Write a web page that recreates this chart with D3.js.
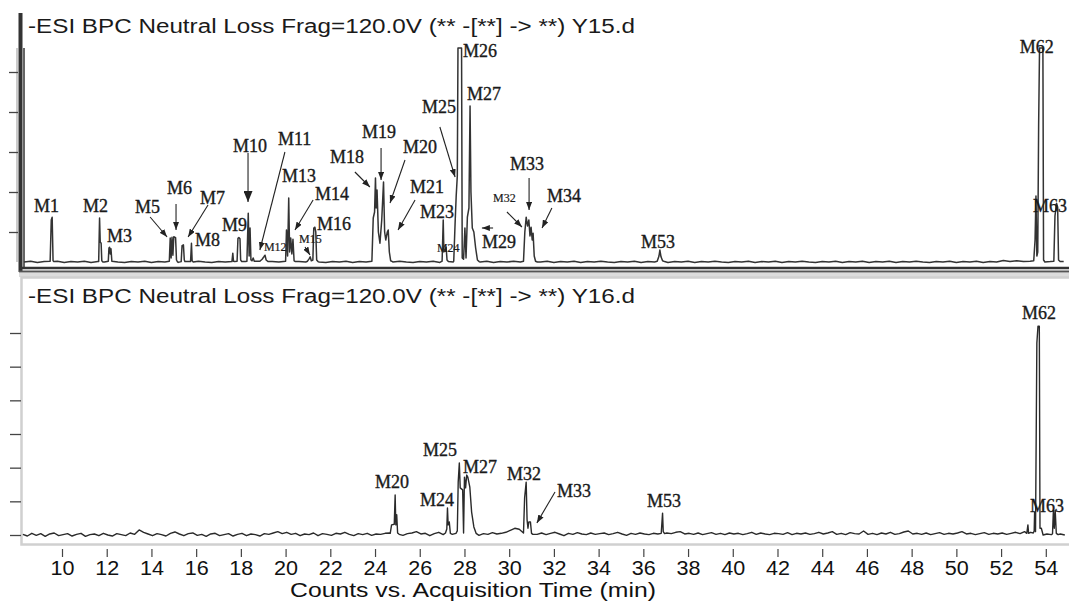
<!DOCTYPE html>
<html><head><meta charset="utf-8">
<script src="https://cdn.jsdelivr.net/npm/d3@7"></script>
<style>
html,body{margin:0;padding:0;background:#fff;}
svg{display:block;}
</style></head>
<body>
<svg id="chart" width="1069" height="604"></svg>
<script>
// ---------------- DATA ----------------
const xTickValues = [10,12,14,16,18,20,22,24,26,28,30,32,34,36,38,40,42,44,46,48,50,52,54];
const topYTicks = [1,2,3,4,5];
const botYTicks = [0,1,2,3,4,5,6];
const titleY15 = "-ESI BPC Neutral Loss Frag=120.0V (** -[**] -> **) Y15.d";
const titleY16 = "-ESI BPC Neutral Loss Frag=120.0V (** -[**] -> **) Y16.d";
const xAxisTitle = "Counts vs. Acquisition Time (min)";

// Y15 baseline noise [time, intensity]
const y15Baseline = [
[8.3,.25],[8.6,.27],[8.9,.24],[9.2,.26],[9.5,.25],[9.8,.27],[10.1,.24],[10.4,.26],[10.7,.25],[11.0,.27],
[11.3,.24],[11.6,.26],[11.9,.25],[12.2,.27],[12.5,.25],[12.8,.24],[13.1,.26],[13.4,.25],[13.7,.27],[14.0,.24],
[14.3,.26],[14.6,.25],[14.9,.27],[15.2,.24],[15.5,.26],[15.8,.25],[16.1,.27],[16.4,.25],[16.7,.24],[17.0,.26],
[17.3,.25],[17.6,.27],[17.9,.24],[18.2,.26],[18.5,.25],[18.8,.27],[19.1,.24],[19.4,.26],[19.7,.25],[20.0,.27],
[20.3,.24],[20.6,.26],[20.9,.25],[21.2,.27],[21.5,.25],[21.8,.24],[22.1,.26],[22.4,.25],[22.7,.27],[23.0,.24],
[23.3,.26],[23.6,.25],[23.9,.27],[24.2,.24],[24.5,.26],[24.8,.25],[25.1,.27],[25.4,.25],[25.7,.24],[26.0,.26],
[26.3,.25],[26.6,.27],[26.9,.24],[27.2,.26],[27.5,.25],[27.8,.27],[28.1,.24],[28.4,.26],[28.7,.25],[29.0,.27],
[29.3,.24],[29.6,.26],[29.9,.25],[30.2,.27],[30.5,.25],[30.8,.24],[31.1,.26],[31.4,.25],[31.7,.27],[32.0,.24],
[32.3,.26],[32.6,.25],[32.9,.27],[33.2,.24],[33.5,.26],[33.8,.25],[34.1,.27],[34.4,.25],[34.7,.24],[35.0,.26],
[35.3,.25],[35.6,.27],[35.9,.24],[36.2,.26],[36.5,.25],[36.8,.27],[37.1,.24],[37.4,.26],[37.7,.25],[38.0,.27],
[38.3,.24],[38.6,.26],[38.9,.25],[39.2,.27],[39.5,.25],[39.8,.24],[40.1,.26],[40.4,.25],[40.7,.27],[41.0,.24],
[41.3,.26],[41.6,.25],[41.9,.27],[42.2,.24],[42.5,.26],[42.8,.25],[43.1,.27],[43.4,.25],[43.7,.24],[44.0,.26],
[44.3,.25],[44.6,.27],[44.9,.24],[45.2,.26],[45.5,.25],[45.8,.27],[46.1,.24],[46.4,.26],[46.7,.25],[47.0,.27],
[47.3,.24],[47.6,.26],[47.9,.25],[48.2,.27],[48.5,.25],[48.8,.24],[49.1,.26],[49.4,.25],[49.7,.27],[50.0,.24],
[50.3,.26],[50.6,.25],[50.9,.27],[51.2,.24],[51.5,.26],[51.8,.25],[52.1,.29],[52.4,.26],[52.7,.28],[53.0,.26],
[53.3,.27],[53.6,.26],[53.9,.25],[54.2,.26],[54.5,.25],[54.8,.26]
];

// Y15 peak clusters [time, intensity]
const y15Peaks = [
 [[9.47,.27],[9.52,1.3],[9.56,1.37],[9.6,.28],[9.64,.26]],
 [[11.64,.26],[11.68,1.35],[11.71,.75],[11.75,.72],[11.78,.28],[11.83,.25]],
 [[12.07,.27],[12.1,.6],[12.13,.62],[12.16,.45],[12.19,.58],[12.23,.27]],
 [[14.8,.27],[14.84,.85],[14.88,.35],[14.92,.87],[14.96,.42],[15.0,.88],[15.08,.86],[15.12,.3],[15.16,.26]],
 [[15.33,.26],[15.37,.66],[15.43,.68],[15.47,.3],[15.5,.26]],
 [[15.75,.26],[15.79,.72],[15.82,.28],[15.87,.25]],
 [[17.6,.26],[17.64,.47],[17.67,.27],[17.72,.26]],
 [[17.83,.27],[17.87,.84],[17.91,.86],[17.96,.83],[17.99,.3],[18.04,.26]],
 [[18.27,.27],[18.33,1.47],[18.37,.4],[18.41,1.1],[18.45,.3],[18.5,.28],[18.55,.35],[18.6,.27]],
 [[18.85,.27],[18.95,.32],[19.03,.38],[19.08,.42],[19.13,.3],[19.22,.26]],
 [[20.0,.27],[20.04,1.05],[20.09,.4],[20.14,1.85],[20.18,.5],[20.23,.85],[20.28,.45],[20.33,.82],[20.38,.28],[20.44,.26]],
 [[20.98,.27],[21.05,.33],[21.1,.38],[21.15,.28],[21.22,.3],[21.26,1.1],[21.31,1.12],[21.35,1.0],[21.39,.3],[21.45,.26]],
 [[23.86,.27],[23.92,1.35],[23.98,1.5],[24.02,2.35],[24.05,1.6],[24.09,2.05],[24.15,1.0],[24.22,.72],[24.3,1.3],[24.38,2.25],[24.43,1.0],[24.48,.8],[24.55,1.0],[24.59,1.05],[24.64,.5],[24.7,.28],[24.78,.26]],
 [[27.0,.27],[27.05,1.3],[27.08,.5],[27.13,.55],[27.18,.62],[27.22,.3],[27.28,.26]],
 [[27.52,.27],[27.58,1.2],[27.63,1.9],[27.68,2.4],[27.71,5.6],[27.87,5.6],[27.9,.35],[27.96,.32],[28.02,1.1],[28.07,.35],[28.13,1.37],[28.2,1.6],[28.25,4.15],[28.29,2.0],[28.35,1.1],[28.42,1.0],[28.5,.6],[28.58,.3],[28.66,.26]],
 [[30.64,.27],[30.7,1.0],[30.76,1.37],[30.82,1.15],[30.88,1.3],[30.93,.9],[30.98,1.12],[31.03,.8],[31.07,.97],[31.12,.4],[31.18,.27],[31.26,.25]],
 [[36.62,.27],[36.7,.4],[36.74,.55],[36.79,.38],[36.86,.28],[36.95,.26]],
 [[53.46,.28],[53.52,.8],[53.56,1.9],[53.6,.4],[53.64,.5],[53.68,3.7],[53.72,5.6],[53.87,5.6],[53.9,.3],[53.96,.25]],
 [[54.36,.27],[54.41,1.4],[54.48,1.72],[54.53,1.62],[54.57,.3],[54.64,.26]]
];

// Y16 baseline noise [time, intensity]
const y16Baseline = [
[8.25,.02],[8.45,-.03],[8.65,.05],[8.85,-.01],[9.05,.04],[9.25,-.04],[9.45,.03],[9.65,.06],[9.85,-.02],[10.05,.01],
[10.25,.04],[10.45,-.03],[10.65,.02],[10.85,.05],[11.05,-.04],[11.25,.01],[11.45,.03],[11.65,-.02],[11.85,.05],[12.05,0],
[12.25,-.03],[12.45,.04],[12.65,.01],[12.85,-.02],[13.05,.06],[13.25,.02],[13.45,.15],[13.65,.08],[13.85,.03],[14.05,-.02],
[14.25,.04],[14.45,.01],[14.65,-.03],[14.85,.05],[15.05,.09],[15.25,.03],[15.45,-.02],[15.65,.04],[15.85,.06],[16.05,-.01],
[16.25,.02],[16.45,-.04],[16.65,.03],[16.85,.05],[17.05,-.02],[17.25,.01],[17.45,.04],[17.65,-.03],[17.85,.02],[18.05,.05],
[18.25,-.02],[18.45,.03],[18.65,.01],[18.85,-.03],[19.05,.04],[19.25,.02],[19.45,.06],[19.65,.1],[19.85,.04],[20.05,.08],
[20.25,.02],[20.45,.05],[20.65,-.02],[20.85,.03],[21.05,.01],[21.25,.06],[21.45,-.02],[21.65,.04],[21.85,.02],[22.05,-.01],
[22.25,.05],[22.45,.03],[22.65,.08],[22.85,.02],[23.05,-.02],[23.25,.04],[23.45,.01],[23.65,.05],[23.85,-.01],[24.05,.03],
[24.25,.02],[24.45,.05],[24.65,.06],[24.85,.04],[25.05,.02],[25.25,-.01],[25.45,.04],[25.65,.06],[25.85,.1],[26.05,.03],
[26.25,.05],[26.45,-.02],[26.65,.04],[26.85,.08],[27.05,.01],[27.25,.06],[27.45,.02],[27.65,.08],[27.85,.03],[28.05,.01],
[28.25,.02],[28.45,.06],[28.65,-.01],[28.85,.04],[29.05,.02],[29.25,.07],[29.45,.03],[29.65,.05],[29.85,.08],[30.05,.14],
[30.25,.2],[30.45,.17],[30.65,.15],[30.85,.1],[31.05,.05],[31.25,.02],[31.45,.06],[31.65,.01],[31.85,.05],[32.05,.08],
[32.25,.03],[32.45,-.02],[32.65,.05],[32.85,.02],[33.05,.07],[33.25,.03],[33.45,.01],[33.65,.06],[33.85,.02],[34.05,.04],
[34.25,.06],[34.45,.01],[34.65,.04],[34.85,.08],[35.05,.03],[35.25,-.01],[35.45,.05],[35.65,.02],[35.85,.06],[36.05,.03],
[36.25,.01],[36.45,.05],[36.65,.03],[36.85,.02],[37.05,.06],[37.25,.04],[37.45,.08],[37.65,.1],[37.85,.03],[38.05,.05],
[38.25,.02],[38.45,.06],[38.65,.01],[38.85,.04],[39.05,.07],[39.25,.02],[39.45,.05],[39.65,.01],[39.85,.06],[40.05,.03],
[40.25,.05],[40.45,.01],[40.65,.04],[40.85,.08],[41.05,.02],[41.25,.06],[41.45,.03],[41.65,.01],[41.85,.05],[42.05,.04],
[42.25,.02],[42.45,.07],[42.65,.01],[42.85,.05],[43.05,.03],[43.25,.06],[43.45,.02],[43.65,.04],[43.85,.08],[44.05,.03],
[44.25,.06],[44.45,.1],[44.65,.02],[44.85,.05],[45.05,.01],[45.25,.07],[45.45,.04],[45.65,.03],[45.85,.12],[46.05,.02],
[46.25,.05],[46.45,.01],[46.65,.06],[46.85,.03],[47.05,.08],[47.25,.02],[47.45,.04],[47.65,.09],[47.85,.12],[48.05,.03],
[48.25,.05],[48.45,.02],[48.65,.06],[48.85,.01],[49.05,.04],[49.25,.07],[49.45,.02],[49.65,.05],[49.85,.03],[50.05,.06],
[50.25,.1],[50.45,.03],[50.65,.05],[50.85,.01],[51.05,.04],[51.25,.07],[51.45,.02],[51.65,.05],[51.85,.03],[52.05,.06],
[52.25,.02],[52.45,.05],[52.65,.08],[52.85,.04],[53.05,.1],[53.25,.06],[53.45,.12],[53.65,.05],[53.85,.08],[54.05,.03],
[54.25,.01],[54.45,-.02],[54.65,.03],[54.85,0]
];

// Y16 peak clusters [time, intensity]
const y16Peaks = [
 [[24.68,.05],[24.74,.3],[24.86,.32],[24.9,1.19],[24.93,.3],[24.97,.6],[25.01,.06],[25.08,.02]],
 [[27.15,.06],[27.21,.18],[27.24,.8],[27.27,.3],[27.32,.39],[27.37,.05],[27.42,.03]],
 [[27.62,.05],[27.68,.12],[27.72,1.57],[27.77,2.14],[27.81,1.4],[27.92,1.34],[27.96,.06],[28.0,1.72],[28.05,1.4],[28.1,1.78],[28.15,1.72],[28.24,1.42],[28.32,.68],[28.42,.24],[28.52,.05]],
 [[30.64,.06],[30.69,1.1],[30.76,1.57],[30.8,.45],[30.84,.2],[30.88,.39],[30.95,.39],[31.0,.05],[31.06,.02]],
 [[36.8,.05],[36.86,.65],[36.89,.1],[36.95,.04]],
 [[53.15,.05],[53.2,.3],[53.23,.05],[53.32,.08],[53.44,.06],[53.48,.12],[53.5,.68],[53.54,.1],[53.6,5.7],[53.65,6.2],[53.71,6.2],[53.74,.2],[53.8,.2],[53.88,0]],
 [[54.3,.04],[54.34,.74],[54.38,.2],[54.42,.74],[54.47,.05],[54.55,.01]]
];

// Peak labels: [text, time, intensity(baseline of text), small]
const y15Labels = [
 ["M1",8.75,1.5,0],["M2",10.94,1.5,0],["M3",12.01,.75,0],["M5",13.26,1.475,0],["M6",14.7,1.95,0],
 ["M7",16.17,1.7,0],["M8",15.95,.65,0],["M9",17.16,1.025,0],["M10",17.65,3.0,0],["M11",19.66,3.175,0],
 ["M12",19.03,.525,1],["M13",19.84,2.25,0],["M14",21.31,1.8,0],["M15",20.6,.725,1],["M16",21.4,1.05,0],
 ["M18",21.99,2.725,0],["M19",23.42,3.35,0],["M20",25.25,2.975,0],["M21",25.56,1.975,0],["M23",26.01,1.35,0],
 ["M24",26.77,.5,1],["M25",26.1,3.975,0],["M26",27.93,5.375,0],["M27",28.11,4.3,0],["M29",28.78,.6,0],
 ["M32",29.28,1.75,1],["M33",30.04,2.55,0],["M34",31.69,1.75,0],["M53",35.89,.6,0],["M62",52.84,5.475,0],
 ["M63",53.43,1.5,0]
];
// Arrows: [t1, v1, t2, v2, big]
const y15Arrows = [
 [13.94,1.375,14.7,.875,0],[15.1,1.7,15.1,1.05,0],[16.53,1.675,15.64,.875,0],[18.32,2.975,18.32,1.75,1],
 [19.97,3.0,18.85,.55,0],[21.23,1.8,20.42,1.05,0],[20.87,.625,21.09,.425,0],[23.1,2.5,23.77,2.125,0],
 [24.27,3.1,24.27,2.3,0],[25.34,2.8,24.67,1.725,0],[25.79,1.8,25.03,1.05,0],[26.9,3.625,27.58,2.375,0],
 [29.28,1.1,28.78,1.1,0],[29.9,1.5,30.57,1.125,0],[30.89,2.35,30.89,1.55,0],[31.91,1.6,31.47,1.1,0]
];
const y16Labels = [
 ["M20",24.0,1.39,0],["M24",26.01,.86,0],["M25",26.14,2.34,0],["M27",27.93,1.84,0],["M32",29.9,1.63,0],
 ["M33",32.14,1.13,0],["M53",36.16,.83,0],["M62",52.93,6.41,0],["M63",53.29,.68,0]
];
const y16Arrows = [[32.05,1.28,31.24,.36,0]];

// ---------------- DRAW ----------------
const svg = d3.select("#chart");
const x = d3.scaleLinear().domain([10, 54]).range([62, 1045.8]);
const yTop = d3.scaleLinear().domain([0, 5]).range([272, 72]);
const yBot = d3.scaleLinear().domain([0, 6]).range([535, 333]);

function mergeTrace(base, peaks) {
  const kept = base.filter(p => !peaks.some(c => p[0] >= c[0][0] && p[0] <= c[c.length-1][0]));
  return kept.concat(peaks.flat()).sort((a,b) => a[0]-b[0]);
}
const y15Trace = mergeTrace(y15Baseline, y15Peaks);
const y16Trace = mergeTrace(y16Baseline, y16Peaks);

// arrow markers
const defs = svg.append("defs");
function marker(id, w, h) {
  defs.append("marker").attr("id", id).attr("markerUnits","userSpaceOnUse")
    .attr("markerWidth", w).attr("markerHeight", h).attr("refX", w).attr("refY", h/2)
    .attr("orient","auto")
    .append("path").attr("d", `M0,0 L${w},${h/2} L0,${h} Z`).attr("fill","#222");
}
marker("ah", 8, 6);
marker("ahBig", 11, 9);

// bottom panel frame
svg.append("rect").attr("x",19).attr("y",273).attr("width",1060).attr("height",4).attr("fill","#dcdcdc");
svg.append("rect").attr("x",21.5).attr("y",277.5).attr("width",1060).attr("height",267)
  .attr("fill","none").attr("stroke","#d0d0d0").attr("stroke-width",2.5);

// top panel axes lines
svg.append("line").attr("x1",20.5).attr("x2",20.5).attr("y1",13).attr("y2",272).attr("stroke","#333").attr("stroke-width",4);
svg.append("line").attr("x1",24).attr("x2",24).attr("y1",48).attr("y2",268).attr("stroke","#666").attr("stroke-width",2);
svg.append("line").attr("x1",17).attr("x2",17).attr("y1",48).attr("y2",262).attr("stroke","#aaa").attr("stroke-width",1.2);
svg.append("line").attr("x1",19).attr("x2",1069).attr("y1",268).attr("y2",268).attr("stroke","#333").attr("stroke-width",2.5);
svg.append("line").attr("x1",19).attr("x2",1069).attr("y1",271.5).attr("y2",271.5).attr("stroke","#555").attr("stroke-width",2);

// y axes (unlabelled ticks)
const gTopY = svg.append("g").attr("transform","translate(18,0)")
  .call(d3.axisLeft(yTop).tickValues(topYTicks).tickFormat("").tickSize(9).tickSizeOuter(0));
gTopY.select(".domain").remove();
gTopY.selectAll(".tick line").attr("stroke","#444").attr("stroke-width",1.3);

const gBotY = svg.append("g").attr("transform","translate(21,0)")
  .call(d3.axisLeft(yBot).tickValues(botYTicks).tickFormat("").tickSize(11).tickSizeOuter(0));
gBotY.select(".domain").remove();
gBotY.selectAll(".tick line").attr("stroke","#444").attr("stroke-width",1.3);

// x axis
const gX = svg.append("g").attr("transform","translate(0,549)")
  .call(d3.axisBottom(x).tickValues(xTickValues).tickSize(8).tickPadding(4).tickSizeOuter(0));
gX.select(".domain").remove();
gX.selectAll(".tick line").attr("stroke","#444").attr("stroke-width",1.2);
gX.selectAll(".tick text").attr("font-family","'Liberation Sans', Arial, sans-serif")
  .attr("font-size",19.5).attr("fill","#111")
  .attr("textLength",24).attr("lengthAdjust","spacingAndGlyphs");

svg.append("text").attr("x",290).attr("y",597).text(xAxisTitle)
  .attr("font-family","'Liberation Sans', Arial, sans-serif").attr("font-size",21).attr("fill","#111")
  .attr("textLength",366).attr("lengthAdjust","spacingAndGlyphs");

// titles
svg.append("text").attr("x",28).attr("y",33).text(titleY15)
  .attr("font-family","'Liberation Sans', Arial, sans-serif").attr("font-size",20).attr("fill","#1a1a1a")
  .attr("textLength",607).attr("lengthAdjust","spacingAndGlyphs");
svg.append("text").attr("x",28).attr("y",303).text(titleY16)
  .attr("font-family","'Liberation Sans', Arial, sans-serif").attr("font-size",20).attr("fill","#1a1a1a")
  .attr("textLength",607).attr("lengthAdjust","spacingAndGlyphs");

// traces
const lineTop = d3.line().x(d => x(d[0])).y(d => yTop(d[1]));
const lineBot = d3.line().x(d => x(d[0])).y(d => yBot(d[1]));
svg.append("path").datum(y15Trace).attr("d", lineTop).attr("fill","none")
  .attr("stroke","#333").attr("stroke-width",1.5).attr("stroke-linejoin","round");
svg.append("path").datum(y16Trace).attr("d", lineBot).attr("fill","none")
  .attr("stroke","#2a2a2a").attr("stroke-width",1.4).attr("stroke-linejoin","round");

// labels + arrows
function drawAnn(labels, arrows, yS) {
  svg.append("g").selectAll("text").data(labels).join("text")
    .attr("x", d => x(d[1])).attr("y", d => yS(d[2])).text(d => d[0])
    .attr("font-family","'Liberation Serif', 'Times New Roman', serif")
    .attr("font-size", d => d[3] ? 12 : 18).attr("fill","#1a1a1a")
    .attr("stroke","#1a1a1a").attr("stroke-width", d => d[3] ? 0.2 : 0.35);
  svg.append("g").selectAll("line").data(arrows).join("line")
    .attr("x1", d => x(d[0])).attr("y1", d => yS(d[1]))
    .attr("x2", d => x(d[2])).attr("y2", d => yS(d[3]))
    .attr("stroke","#222").attr("stroke-width",1.1)
    .attr("marker-end", d => d[4] ? "url(#ahBig)" : "url(#ah)");
}
drawAnn(y15Labels, y15Arrows, yTop);
drawAnn(y16Labels, y16Arrows, yBot);
</script>
</body></html>
